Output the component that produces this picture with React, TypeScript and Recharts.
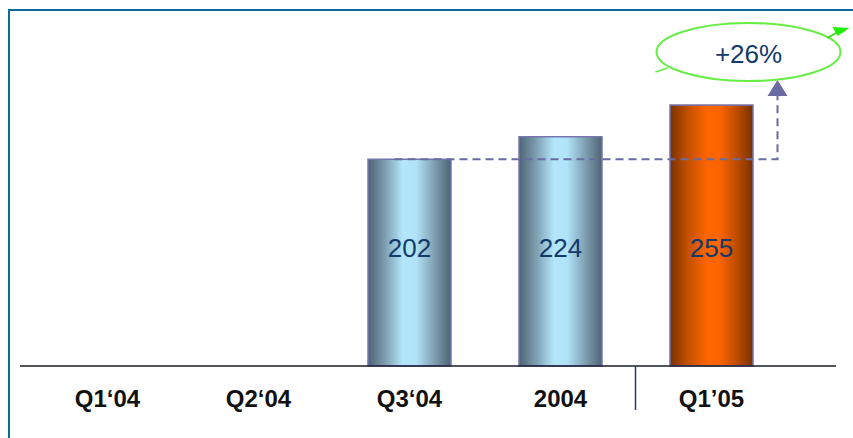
import React from "react";
import { BarChart, Bar, XAxis, YAxis, Cell, LabelList, ReferenceLine } from "recharts";

const periods = ["Q1‘04", "Q2‘04", "Q3‘04", "2004", "Q1’05"];
const revenue: (number | null)[] = [null, null, 202, 224, 255];
const highlight = [false, false, false, false, true];
const growthLabel = "+26%";

const data = periods.map((period, i) => ({
	period,
	revenue: revenue[i],
	highlight: highlight[i],
}));

const FONT = "'Liberation Sans', Arial, sans-serif";

const PeriodTick = (props: any) => {
	const { x, y, payload } = props;
	const isCurrent = payload.value === periods[periods.length - 1];
	return (
		<g>
			<text
				x={x}
				y={y}
				dy={41}
				textAnchor="middle"
				fontFamily={FONT}
				fontWeight="bold"
				fontSize={24}
				fill="#111"
			>
				{payload.value}
			</text>
			{isCurrent && (
				<line x1={x - 76} y1={y} x2={x - 76} y2={y + 44} stroke="#1d3b66" strokeWidth={1.5} />
			)}
		</g>
	);
};

// dashed guide from the Q3'04 level to the growth bubble
const GrowthArrow = (props: any) => {
	const { x1, y1, x2 } = props;
	const cx = x2 + 66;
	const tipY = 81;
	return (
		<g>
			<path
				d={`M${x1 - 15},${y1} H${cx} V${tipY + 14}`}
				fill="none"
				stroke="#6b6ba3"
				strokeWidth={2}
				strokeDasharray="8 5"
			/>
			<polygon points={`${cx - 10},${tipY + 15} ${cx + 10},${tipY + 15} ${cx},${tipY - 1}`} fill="#6b6ba3" />
			<ellipse cx={cx - 29} cy={52} rx={92} ry={29} fill="#fff" stroke="#66ee44" strokeWidth={2} />
			<line x1={cx - 122} y1={72} x2={cx - 110} y2={68} stroke="#66ee44" strokeWidth={1.5} />
			<line x1={cx + 50} y1={38} x2={cx + 60} y2={32} stroke="#33dd11" strokeWidth={1.5} />
			<polygon points={`${cx + 55},${27} ${cx + 72},${28} ${cx + 60},${36}`} fill="#22ee00" />
			<text
				x={cx - 29}
				y={63}
				textAnchor="middle"
				fontFamily={FONT}
				fontSize={26}
				fill="#123a6b"
			>
				{growthLabel}
			</text>
		</g>
	);
};

export default function App() {
	return (
		<div style={{ position: "absolute", left: 0, top: 0, width: 853, height: 438, background: "#fff", overflow: "hidden" }}>
			<div
				style={{
					position: "absolute",
					left: 8,
					top: 9,
					width: 900,
					height: 500,
					borderTop: "2.5px solid #0b6b9b",
					borderLeft: "2.5px solid #0b6b9b",
				}}
			/>
			<div style={{ position: "absolute", left: 0, top: 0 }}>
				<BarChart
					width={853}
					height={438}
					data={data}
					margin={{ top: 20, right: 17, bottom: 0, left: 20 }}
				>
					<defs>
						<linearGradient id="blueBar" x1="0" y1="0" x2="1" y2="0">
							<stop offset="0%" stopColor="#4d6474" />
							<stop offset="20%" stopColor="#7c9cae" />
							<stop offset="42%" stopColor="#b3e6fb" />
							<stop offset="58%" stopColor="#b0e3f8" />
							<stop offset="80%" stopColor="#7f9fb1" />
							<stop offset="100%" stopColor="#4d6373" />
						</linearGradient>
						<linearGradient id="orangeBar" x1="0" y1="0" x2="1" y2="0">
							<stop offset="0%" stopColor="#7a3300" />
							<stop offset="22%" stopColor="#c45000" />
							<stop offset="45%" stopColor="#ff6600" />
							<stop offset="60%" stopColor="#fb6400" />
							<stop offset="82%" stopColor="#b84a00" />
							<stop offset="100%" stopColor="#773100" />
						</linearGradient>
					</defs>
					<XAxis
						dataKey="period"
						height={72}
						padding={{ left: 12, right: 49 }}
						tickLine={false}
						tickSize={0}
						tickMargin={0}
						axisLine={{ stroke: "#1b1b2b", strokeWidth: 1.5 }}
						tick={<PeriodTick />}
						interval={0}
					/>
					<YAxis hide domain={[0, 338]} />
					<Bar dataKey="revenue" barSize={83} stroke="#7676ae" strokeWidth={1.5} isAnimationActive={false}>
						{data.map((d, i) => (
							<Cell key={i} fill={d.highlight ? "url(#orangeBar)" : "url(#blueBar)"} />
						))}
						<LabelList
							dataKey="revenue"
							position="insideBottom"
							offset={109}
							fill="#123a6b"
							fontSize={26}
							fontFamily={FONT}
						/>
					</Bar>
					<ReferenceLine
						segment={[
							{ x: periods[2], y: revenue[2] as number },
							{ x: periods[4], y: revenue[2] as number },
						]}
						ifOverflow="visible"
						shape={<GrowthArrow />}
					/>
				</BarChart>
			</div>
		</div>
	);
}
